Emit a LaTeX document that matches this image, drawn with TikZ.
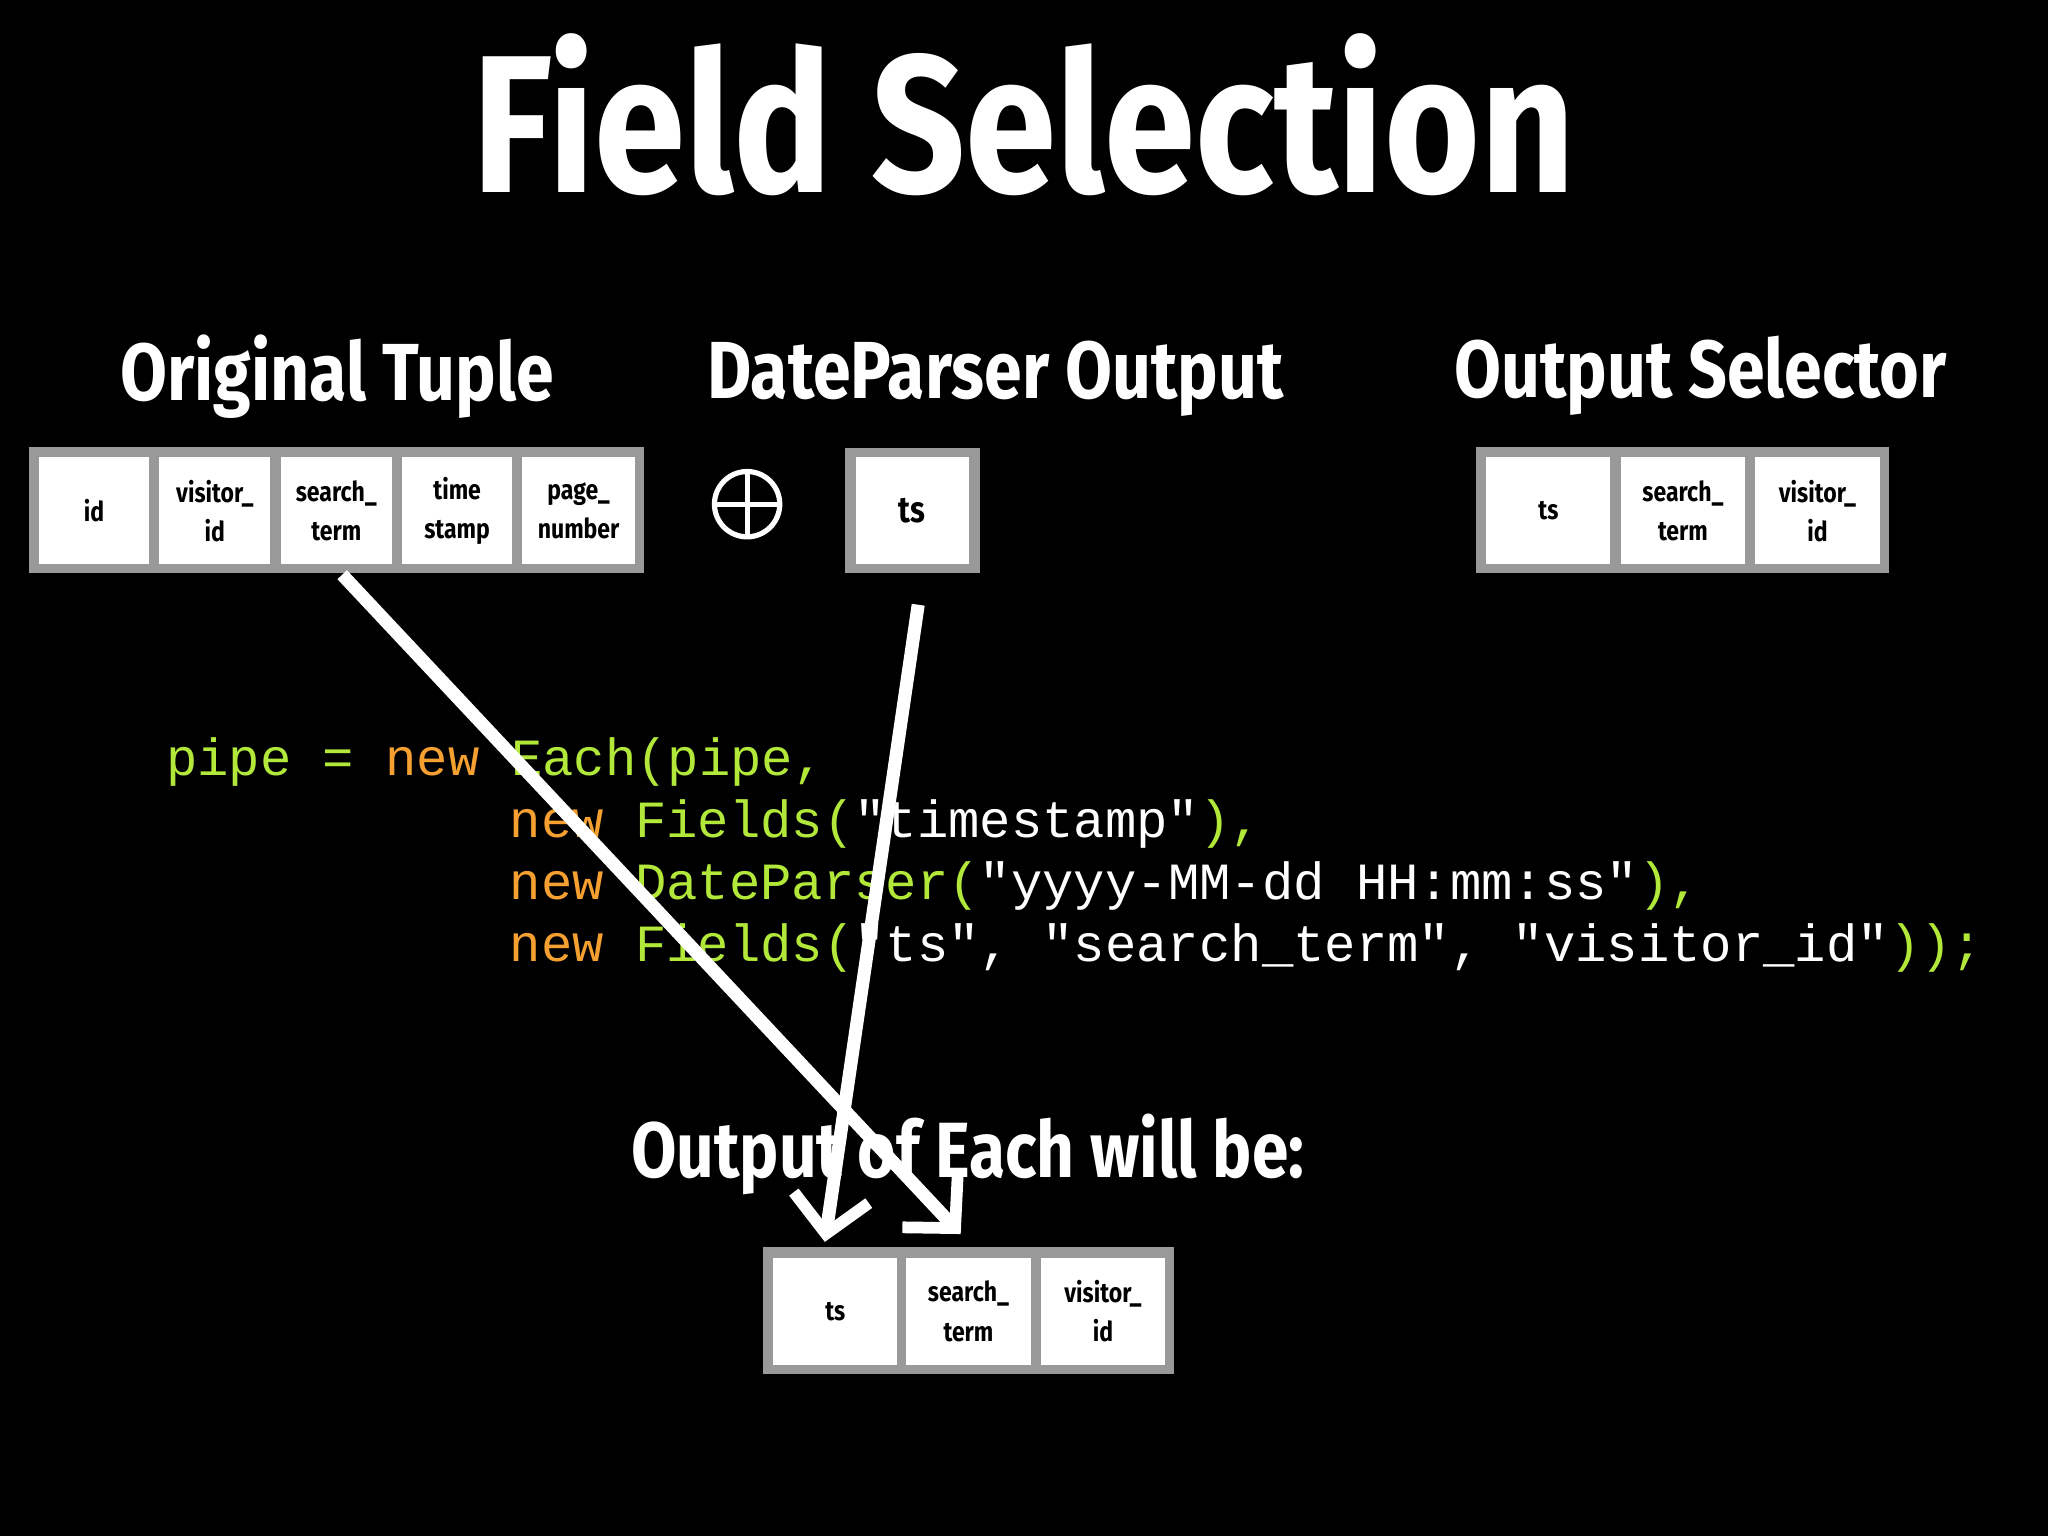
\documentclass[tikz,border=0pt]{standalone}
\usepackage{fontspec}
\setmainfont{Fira Sans}
\newfontfamily\cond[FakeStretch=0.84]{Fira Sans}
\newfontfamily\codef{Liberation Mono}
\usetikzlibrary{arrows.meta}
\definecolor{cg}{HTML}{B2E83A}
\definecolor{co}{HTML}{F5A030}
\begin{document}
\begin{tikzpicture}[x=1pt,y=-1pt,
  cell/.style={fill=white,draw=none,minimum height=82pt,align=center,inner sep=0pt,font=\cond\bfseries\fontsize{21}{30}\selectfont},
  frame/.style={fill=black!40},
  head/.style={text=white,font=\cond\bfseries\fontsize{62}{70}\selectfont},
  code/.style={anchor=base west,font=\codef\fontsize{40}{42}\selectfont,inner sep=0pt},
  arr/.style={white,line width=10pt,-{Straight Barb[length=28pt,width=58pt,line width=9pt]}}]
\fill[black] (0,0) rectangle (1568,1176);
\node[text=white,font=\cond\bfseries\fontsize{150}{160}\selectfont] (title) at (784,88) {Field Selection};
\node[head] (h1) at (258,288) {Original Tuple};
\node[head] (h2) at (762,290) {DateParser Output};
\node[head] (h3) at (1302,288) {Output Selector};
% original tuple
\fill[frame] (22,342) rectangle (493,439);
\node[cell,minimum width=84pt] (o1) at (72,391) {id};
\node[cell,minimum width=85pt] (o2) at (164.5,391) {visitor\_\\id};
\node[cell,minimum width=85pt] (o3) at (257.5,391) {search\_\\term};
\node[cell,minimum width=84pt] (o4) at (350,391) {time\\stamp};
\node[cell,minimum width=86pt] (o5) at (443,391) {page\_\\number};
% oplus
\node[circle,draw=white,line width=4pt,minimum size=50pt] (plus) at (572,386) {};
\draw[white,line width=4pt] (plus.north) -- (plus.south) (plus.west) -- (plus.east);
% ts
\fill[frame] (647,343) rectangle (750,439);
\node[cell,minimum width=87pt,font=\cond\bfseries\fontsize{28}{30}\selectfont] (d1) at (698.5,391) {ts};
% selector
\fill[frame] (1130,342) rectangle (1446,439);
\node[cell,minimum width=95pt] (s1) at (1185.5,391) {ts};
\node[cell,minimum width=95pt] (s2) at (1288.5,391) {search\_\\term};
\node[cell,minimum width=95pt] (s3) at (1391.5,391) {visitor\_\\id};
% code
\node[code] (c1) at (127,594) {\textcolor{cg}{pipe = }\textcolor{co}{new }\textcolor{cg}{Each(pipe,}};
\node[code] (c2) at (390,641) {\textcolor{co}{new }\textcolor{cg}{Fields(}\textcolor{white}{"timestamp"}\textcolor{cg}{),}};
\node[code] (c3) at (390,689) {\textcolor{co}{new }\textcolor{cg}{DateParser(}\textcolor{white}{"yyyy-MM-dd HH:mm:ss"}\textcolor{cg}{),}};
\node[code] (c4) at (390,736) {\textcolor{co}{new }\textcolor{cg}{Fields(}\textcolor{white}{"ts", "search\_term", "visitor\_id"}\textcolor{cg}{));}};
\node[head,font=\cond\bfseries\fontsize{60}{66}\selectfont] (h4) at (741,884) {Output of Each will be:};
% bottom
\fill[frame] (584,955) rectangle (899,1052);
\node[cell,minimum width=95pt] (b1) at (639.5,1004) {ts};
\node[cell,minimum width=95pt] (b2) at (741.5,1004) {search\_\\term};
\node[cell,minimum width=95pt] (b3) at (844.5,1004) {visitor\_\\id};
% arrows
\coordinate (a1) at (262,440);
\coordinate (a2) at (703,463);
\draw[arr] (a1) -- ([shift={(-6,-18)}]b2.north);
\draw[arr] (a2) -- ([shift={(-8,-12)}]b1.north);
\end{tikzpicture}
\end{document}
